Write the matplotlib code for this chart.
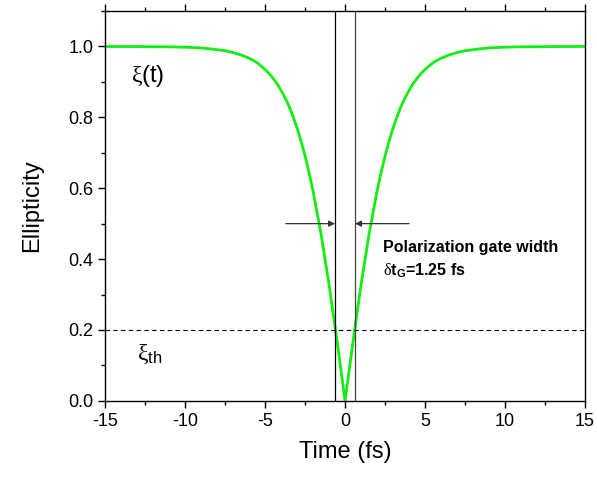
import matplotlib
matplotlib.use("Agg")
import matplotlib.pyplot as plt
from matplotlib.ticker import MultipleLocator

plt.rcParams['font.family'] = ['Liberation Sans', 'DejaVu Sans']
plt.rcParams['axes.unicode_minus'] = False
plt.rcParams['mathtext.fontset'] = 'custom'
plt.rcParams['mathtext.rm'] = 'Liberation Sans'
plt.rcParams['mathtext.it'] = 'Liberation Serif'
plt.rcParams['mathtext.bf'] = 'Liberation Sans:bold'

# ellipticity curve (symmetric about t = 0)
t_half = [0, 0.5, 1, 1.5, 2, 2.25, 2.5, 2.75, 3, 3.25, 3.5, 3.75, 4, 4.25, 4.5,
          4.75, 5, 5.25, 5.5, 5.75, 6, 6.5, 7, 7.5, 8, 9, 10, 11, 12, 13, 15]
xi_half = [0, 0.168, 0.328, 0.470, 0.592, 0.644, 0.691, 0.733, 0.770, 0.802,
           0.831, 0.855, 0.876, 0.895, 0.910, 0.924, 0.935, 0.945, 0.954, 0.961,
           0.967, 0.976, 0.983, 0.988, 0.991, 0.996, 0.998, 0.999, 0.9993,
           0.9997, 1.0]

time = [-v for v in t_half[::-1]] + t_half[1:]
ellipticity = xi_half[::-1] + xi_half[1:]

xi_th = 0.2
gate_width = 1.25
arrow_y = 0.5

fig = plt.figure(figsize=(5.97, 4.8), dpi=100)
ax = fig.add_axes([0.176, 0.165, 0.804, 0.812])

ax.plot(time, ellipticity, color='#11ee11', lw=2, solid_joinstyle='round')
ax.axhline(xi_th, color='black', lw=0.8, ls=(0, (4, 3)))
ax.axvline(-gate_width / 2, color='black', lw=0.9)
ax.axvline(gate_width / 2, color='#444444', lw=0.9)

ap = dict(arrowstyle='-|>', color='#333333', lw=0.9, mutation_scale=9,
          shrinkA=0, shrinkB=0)
ax.annotate('', xy=(-gate_width / 2, arrow_y), xytext=(-3.7, arrow_y), arrowprops=ap)
ax.annotate('', xy=(gate_width / 2, arrow_y), xytext=(4.0, arrow_y), arrowprops=ap)

ax.text(-13.4, 0.90, '$\\xi$(t)', fontsize=17)
ax.text(-13.0, 0.115, '$\\xi_{\\mathrm{th}}$', fontsize=17)
ax.text(2.4, 0.42, 'Polarization gate width', fontsize=11.5, fontweight='bold')
ax.text(2.4, 0.354, '$\\delta$t$_{\\mathbf{G}}$=1.25 fs', fontsize=11.5, fontweight='bold')

ax.set_xlim(-15, 15)
ax.set_ylim(0, 1.1)
ax.xaxis.set_major_locator(MultipleLocator(5))
ax.xaxis.set_minor_locator(MultipleLocator(2.5))
ax.yaxis.set_major_locator(MultipleLocator(0.2))
ax.yaxis.set_minor_locator(MultipleLocator(0.1))
ax.yaxis.set_major_formatter(matplotlib.ticker.FormatStrFormatter('%.1f'))

ax.tick_params(which='both', direction='out', top=True, right=False,
               labeltop=False, labelsize=13, width=1)
ax.tick_params(which='major', length=5)
ax.tick_params(which='minor', length=3)
for s in ax.spines.values():
    s.set_linewidth(1)

ax.set_xlabel('Time (fs)', fontsize=17, labelpad=8)
ax.set_ylabel('Ellipticity', fontsize=17, labelpad=18)

fig.savefig('out.png', dpi=100)
